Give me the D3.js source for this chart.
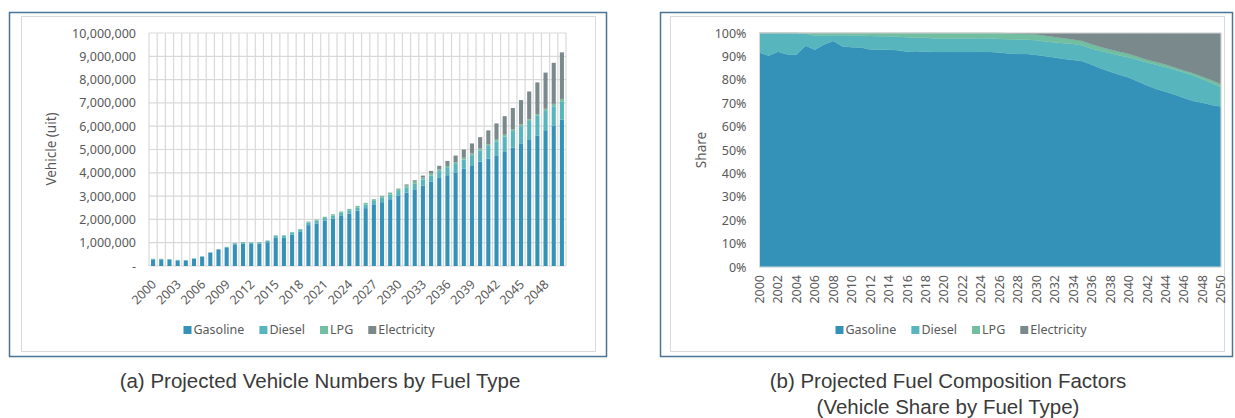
<!DOCTYPE html>
<html>
<head>
<meta charset="utf-8">
<script src="https://cdn.jsdelivr.net/npm/d3@7"></script>
<style>
  body { margin: 0; background: #fff; }
  svg { display: block; font-family: "Noto Sans", sans-serif; }
</style>
</head>
<body>
<svg id="fig" width="1235" height="418"></svg>
<script>
// ---- data (vehicles, in thousands) ----
const years = d3.range(2000, 2051);
const fuels = ["Gasoline", "Diesel", "LPG", "Electricity"];

const gasoline = [284, 280, 276, 238, 234, 313, 391, 561, 705, 773,
  930, 966, 948, 956, 1021, 1222, 1214, 1346, 1463, 1755,
  1829, 1939, 2040, 2150, 2252, 2371, 2483, 2620, 2739, 2866,
  3008, 3153, 3293, 3450, 3611, 3780, 3897, 4019, 4170, 4324,
  4479, 4616, 4749, 4894, 5078, 5240, 5409, 5587, 5827, 6034, 6291];
const diesel = [26, 30, 24, 24, 24, 17, 25, 23, 18, 39,
  49, 52, 59, 60, 64, 77, 82, 85, 94, 111,
  113, 122, 129, 136, 142, 147, 157, 172, 187, 192,
  209, 221, 236, 260, 277, 292, 311, 356, 395, 431,
  476, 535, 600, 662, 712, 762, 816, 859, 830, 820, 752];
const lpg = [0, 0, 0, 0, 0, 1, 5, 6, 7, 8,
  11, 12, 13, 14, 15, 21, 24, 29, 33, 44,
  48, 49, 51, 54, 56, 62, 69, 72, 75, 79,
  83, 84, 88, 85, 78, 82, 86, 81, 80, 84,
  83, 81, 73, 77, 75, 71, 67, 79, 91, 105, 128];
const electricity = [0, 0, 0, 0, 0, 0, 0, 0, 0, 0,
  0, 0, 0, 0, 0, 0, 0, 0, 0, 0,
  0, 0, 0, 0, 0, 0, 1, 6, 9, 13,
  20, 42, 63, 85, 114, 146, 216, 284, 355, 421,
  492, 588, 698, 797, 915, 1047, 1198, 1355, 1552, 1761, 1999];

const countTicks = d3.range(0, 10000001, 1000000);
const shareTicks = d3.range(0, 11).map(d => d / 10);
const countTickYears = years.filter((y, i) => i % 3 === 0);
const shareTickYears = years.filter((y, i) => i % 2 === 0);

const colors = ["#3492b9", "#57b5be", "#71bea0", "#7a898b"];

// table used by both stacks
const table = years.map((year, i) => ({
  year,
  Gasoline: gasoline[i] * 1000,
  Diesel: diesel[i] * 1000,
  LPG: lpg[i] * 1000,
  Electricity: electricity[i] * 1000
}));

const svg = d3.select("#fig");
const color = d3.scaleOrdinal(fuels, colors);
const tickColor = "#595959";
const gridColor = "#d9d9d9";
const tickSize = 12.5;

// ---- panel frames ----
function frame(x, y, w, h, ix, iy, iw, ih) {
  svg.append("rect").attr("x", x).attr("y", y).attr("width", w).attr("height", h)
    .attr("fill", "none").attr("stroke", "#4a7396").attr("stroke-width", 1.5);
  svg.append("rect").attr("x", ix).attr("y", iy).attr("width", iw).attr("height", ih)
    .attr("fill", "none").attr("stroke", gridColor).attr("stroke-width", 1);
}
frame(9.5, 12.5, 597, 344, 21.5, 16.5, 574, 335);
frame(660.5, 12.5, 572, 344, 670.5, 16.5, 554, 335);

// ---- legend ----
function legend(cx, cy) {
  const g = svg.append("g");
  let x = 0;
  fuels.forEach(f => {
    g.append("rect").attr("x", x).attr("y", cy - 4).attr("width", 8).attr("height", 8)
      .attr("fill", color(f));
    const t = g.append("text").attr("x", x + 10).attr("y", cy).attr("dy", "0.35em")
      .attr("font-size", 12.5).attr("fill", tickColor).text(f);
    x += 10 + t.node().getComputedTextLength() + 15;
  });
  const w = x - 15;
  g.attr("transform", `translate(${cx - w / 2},0)`);
}

// ---- (a) stacked bars ----
{
  const x0 = 149, x1 = 566, top = 33, bottom = 266;
  const x = d3.scaleBand(years, [x0, x1]).paddingInner(0.5).paddingOuter(0.25);
  const y = d3.scaleLinear([0, 10000000], [bottom, top]);
  const g = svg.append("g");

  // grid
  g.append("g").selectAll("line").data(countTicks).join("line")
    .attr("x1", x0).attr("x2", x1).attr("y1", d => y(d)).attr("y2", d => y(d))
    .attr("stroke", gridColor).attr("stroke-width", 1.2);
  g.append("g").selectAll("line").data(d3.range(years.length + 1)).join("line")
    .attr("x1", i => x0 + i * x.step()).attr("x2", i => x0 + i * x.step())
    .attr("y1", top).attr("y2", bottom)
    .attr("stroke", gridColor).attr("stroke-width", 1.2);

  const series = d3.stack().keys(fuels)(table);
  g.append("g").selectAll("g").data(series).join("g")
    .attr("fill", s => color(s.key))
    .selectAll("rect").data(s => s).join("rect")
    .attr("x", d => x(d.data.year))
    .attr("width", x.bandwidth())
    .attr("y", d => y(d[1]))
    .attr("height", d => Math.max(0, y(d[0]) - y(d[1])));

  // y axis
  const yAxis = d3.axisLeft(y).tickValues(countTicks).tickSize(0).tickPadding(0)
    .tickFormat(d => d === 0 ? "-" : d3.format(",")(d));
  g.append("g").attr("transform", `translate(${x0 - 13},0)`).call(yAxis)
    .call(a => a.select(".domain").remove())
    .selectAll("text").attr("font-size", tickSize).attr("fill", tickColor)
    .attr("font-family", "Noto Sans");

  // x labels
  g.append("g").selectAll("text").data(countTickYears).join("text")
    .attr("transform", d => `translate(${x(d) + x.bandwidth() / 2 + 1},${bottom + 16}) rotate(-45)`)
    .attr("text-anchor", "end").attr("dy", "0.35em")
    .attr("font-size", tickSize).attr("fill", tickColor).text(d => d);

  svg.append("text").attr("transform", "translate(51,149) rotate(-90)")
    .attr("text-anchor", "middle").attr("dy", "0.35em")
    .attr("font-size", 13.5).attr("fill", tickColor).text("Vehicle (uit)");

  legend(309, 330);
}

// ---- (b) 100% stacked area ----
{
  const x0 = 759.5, x1 = 1221, top = 33, bottom = 267;
  const x = d3.scaleLinear([2000, 2050], [x0, x1]);
  const y = d3.scaleLinear([0, 1], [bottom, top]);
  const g = svg.append("g");

  const series = d3.stack().keys(fuels).offset(d3.stackOffsetExpand)(table);
  const area = d3.area().x(d => x(d.data.year)).y0(d => y(d[0])).y1(d => y(d[1]));
  g.append("g").selectAll("path").data(series).join("path")
    .attr("fill", s => color(s.key))
    .attr("stroke", s => color(s.key)).attr("stroke-width", 0.3)
    .attr("d", area);

  g.append("rect").attr("x", x0).attr("y", top).attr("width", x1 - x0).attr("height", bottom - top)
    .attr("fill", "none").attr("stroke", gridColor).attr("stroke-width", 1);

  const yAxis = d3.axisLeft(y).tickValues(shareTicks).tickSize(0).tickPadding(0)
    .tickFormat(d3.format(".0%"));
  g.append("g").attr("transform", `translate(${x0 - 13},0)`).call(yAxis)
    .call(a => a.select(".domain").remove())
    .selectAll("text").attr("font-size", tickSize).attr("fill", tickColor)
    .attr("font-family", "Noto Sans");

  g.append("g").selectAll("text").data(shareTickYears).join("text")
    .attr("transform", d => `translate(${x(d)},${bottom + 8}) rotate(-90)`)
    .attr("text-anchor", "end").attr("dy", "0.35em")
    .attr("font-size", tickSize).attr("fill", tickColor).text(d => d);

  svg.append("text").attr("transform", "translate(701,150) rotate(-90)")
    .attr("text-anchor", "middle").attr("dy", "0.35em")
    .attr("font-size", 13.5).attr("fill", tickColor).text("Share");

  legend(961, 330);
}

// ---- captions ----
const cap = svg.append("g").attr("font-family", "'Liberation Sans', sans-serif")
  .attr("font-size", 20.5).attr("fill", "#3a3a3a").attr("text-anchor", "middle");
cap.append("text").attr("x", 320).attr("y", 388).text("(a) Projected Vehicle Numbers by Fuel Type");
cap.append("text").attr("x", 948).attr("y", 388).text("(b) Projected Fuel Composition Factors");
cap.append("text").attr("x", 948).attr("y", 414).text("(Vehicle Share by Fuel Type)");
</script>
</body>
</html>
